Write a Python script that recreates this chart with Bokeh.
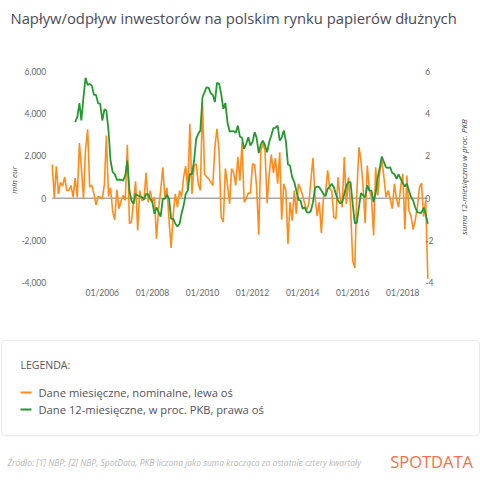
import math
import pandas as pd
from bokeh.plotting import figure
from bokeh.models import Range1d
from bokeh.embed import file_html
from bokeh.resources import INLINE
from bokeh.core.properties import value

TITLE = "Napływ/odpływ inwestorów na polskim rynku papierów dłużnych"

# monthly flows, mln EUR (left axis), Jan 2004 .. Jan 2019
monthly_start = "2004-01-01"
monthly_flow = [
    1590, 0, 1500, 200, 750, 570, 1000, 360, 360, 600, 50, 950,
    50, 2600, 1460, -30, 2300, 3250, 520, 600, 200, -320, 80, 50,
    -30, 680, 2960, 80, 490, -630, -1020, 390, -500, -140, 130, -110,
    2520, -1210, -1130, -190, 800, -1530, 360, -110, -60, 1200, -190, 360,
    -190, 50, -1920, -500, 360, 1460, 50, 490, -1060, -2350, -740, 200,
    -430, 360, 50, 990, 1510, 360, 3510, 200, 1540, 1620, 680, 360,
    4540, 1120, 1020, 910, 760, 600, 2410, 3280, 2170, -900, -1130, 1400,
    630, -270, 1390, 1200, 600, 1940, 830, 2650, -190, -30, 240, 240,
    1620, 1590, 520, -1730, 2250, 2570, 2250, -240, 1150, 2060, 1200, 1900,
    680, 2170, -1020, 680, 360, -2160, -190, -1060, 360, -740, 680, 440,
    130, -270, -580, -270, 830, 1900, 50, -850, -190, -1640, 50, 200,
    1310, 440, 360, -900, -980, 990, 50, -430, 1940, -270, 990, -390,
    -2950, -3300, 200, 2410, 1780, 520, -1180, 1540, 360, 50, -1760, 1460,
    130, 1310, 1780, 990, 50, 360, -30, -500, 680, -30, -430, 520,
    1150, -1480, 1070, -580, -850, -1480, -1060, -430, 490, 710, -870, -110,
    -3810,
]

# 12-month sum, % of GDP (right axis), Dec 2004 .. Jan 2019
pkb_start = "2004-12-01"
pkb_12m = [
    3.59,
    3.83, 4.49, 3.67, 4.77, 5.69, 5.35, 5.40, 5.32, 4.88, 4.88, 4.49, 4.46,
    3.67, 4.20, 4.14, 3.20, 1.78, 1.23, 1.15, 0.87, 0.88, 0.87, 0.83, 1.07,
    1.78, 0.36, -0.11, -0.27, 0.20, 0.13, 0.09, 0.05, -0.06, 0.20, 0.17, -0.03,
    -0.19, -0.74, -0.43, -0.66, -0.87, -0.03, -0.03, 0.17, -0.03, -0.98, -0.98, -1.21,
    -1.34, -1.21, -0.74, -0.35, 0.20, 0.36, 1.15, 1.12, 1.78, 2.80, 3.04, 3.20,
    4.77, 5.01, 5.24, 5.21, 4.96, 4.88, 4.54, 5.45, 5.40, 4.93, 4.22, 4.49,
    3.59, 3.15, 3.17, 3.17, 3.09, 3.43, 2.91, 2.85, 2.33, 2.57, 2.88, 2.49,
    2.65, 3.12, 2.85, 2.13, 2.54, 2.72, 2.49, 2.17, 2.65, 2.96, 3.31, 3.32,
    3.43, 2.72, 2.85, 3.20, 2.72, 1.59, 1.54, 0.99, 0.76, 0.36, -0.08, -0.11,
    -0.50, -0.43, -0.66, -0.69, -0.61, -0.19, 0.49, 0.55, 0.52, 0.36, 0.20, 0.09,
    0.44, 0.55, 0.68, 0.52, 0.20, -0.11, -0.24, -0.19, 0.20, 0.60, 0.76, 0.76,
    -0.27, -1.18, -1.18, -0.43, 0.24, 0.13, 0.05, 0.60, 0.36, 0.36, -0.19, 0.24,
    0.99, 1.46, 1.97, 1.70, 1.46, 1.43, 1.46, 1.18, 1.15, 0.91, 1.12, 0.91,
    0.71, 0.55, 0.68, 0.36, 0.05, -0.11, -0.43, -0.66, -0.69, -0.69, -0.46, -0.74,
    -1.21,
]

left_ticks = [-4000, -2000, 0, 2000, 4000, 6000]
right_ticks = [-4, -2, 0, 2, 4, 6]
x_tick_years = [2006, 2008, 2010, 2012, 2014, 2016, 2018]

left_axis_title = "mln eur"
right_axis_title = "suma 12-miesięczna w proc. PKB"
legend_title = "LEGENDA:"
legend_labels = ["Dane miesięczne, nominalne, lewa oś",
                 "Dane 12-miesięczne, w proc. PKB, prawa oś"]
source_text = ("Źródło: [1] NBP; [2] NBP, SpotData, PKB liczona jako suma "
               "krocząca za ostatnie cztery kwartały")
brand = "SPOTDATA"

ORANGE = "#ff8c1a"
GREEN = "#25992f"
FONT = "Open Sans"
TICK_FONT = "Lato"

# canvas geometry (pixels, y downwards)
W, H = 480, 483
PL, PR, PT, PB = 51.7, 427.3, 70.7, 282.3   # plot area

dates_m = pd.date_range(monthly_start, periods=len(monthly_flow), freq="MS")
dates_p = pd.date_range(pkb_start, periods=len(pkb_12m), freq="MS")


def span_range(v_at_a, v_at_b, a, b, lo, hi):
    """Range1d whose values v_at_a/v_at_b land at pixels a/b on a [lo, hi] canvas axis."""
    k = (v_at_b - v_at_a) / (b - a)
    return Range1d(v_at_a + (lo - a) * k, v_at_a + (hi - a) * k)


t0 = dates_m[0].value / 1e6
t1 = dates_m[-1].value / 1e6

p = figure(width=W, height=H, output_backend="svg", toolbar_location=None,
           x_range=Range1d(0, W), y_range=Range1d(H, 0), min_border=0,
           x_axis_location=None, y_axis_location=None)
p.grid.visible = False
p.outline_line_color = None
p.background_fill_color = "white"
p.border_fill_color = "white"

# scales for the chart area: y pixels are measured downwards, so the canvas bottom is H
p.extra_x_ranges = {"dates": span_range(t0, t1, PL, PR, 0, W)}
p.extra_y_ranges = {
    "flow": span_range(left_ticks[0], left_ticks[-1], H - PB, H - PT, 0, H),
    "pkb": span_range(right_ticks[0], right_ticks[-1], H - PB, H - PT, 0, H),
}

# title
p.text(x=[10], y=[17], text=[TITLE], text_font=value(FONT), text_font_size="14.8px",
       text_color="#4a4a58", text_baseline="alphabetic")

# zero line over the data span
p.line([dates_m[0], dates_m[-1]], [0, 0], x_range_name="dates", y_range_name="flow",
       line_color="#a8a8a8", line_width=1.5)

# series
p.line(dates_m, monthly_flow, x_range_name="dates", y_range_name="flow",
       line_color=ORANGE, line_width=1.6)
p.line(dates_p, pkb_12m, x_range_name="dates", y_range_name="pkb",
       line_color=GREEN, line_width=1.8)

# axis tick labels
tick_style = dict(text_font=value(TICK_FONT), text_font_size="8.5px",
                  text_color="#666666", text_baseline="middle")
p.text(x=[PL - 6] * len(left_ticks), y=left_ticks, text=[f"{v:,}" for v in left_ticks],
       y_range_name="flow", text_align="right", **tick_style)
p.text(x=[PR - 2.5] * len(right_ticks), y=right_ticks, text=[f"{v}" for v in right_ticks],
       y_range_name="pkb", text_align="left", **tick_style)
xt = [pd.Timestamp(f"{y}-01-01") for y in x_tick_years]
p.text(x=xt, y=[PB + 10] * len(xt), text=[d.strftime("%m/%Y") for d in xt],
       x_range_name="dates", text_align="center", **tick_style)

# axis titles
ax_style = dict(text_font=value(FONT), text_font_size="8px", text_font_style="italic",
                text_color="#444444", text_align="center", text_baseline="middle",
                angle=math.pi / 2)
p.text(x=[13], y=[(PT + PB) / 2 + 3], text=[left_axis_title], **ax_style)
p.text(x=[463], y=[(PT + PB) / 2], text=[right_axis_title], **ax_style)

# legend panel
p.quad(left=[1], right=[479], top=[340.5], bottom=[436], fill_color="#f4f4f4",
       line_color=None, border_radius=4)
p.quad(left=[1], right=[479], top=[340], bottom=[435], fill_color="white",
       line_color="#ebebeb", line_width=1, border_radius=4)
p.text(x=[20], y=[364], text=[legend_title], text_font=value(FONT),
       text_font_size="10.5px", text_color="#555560", text_baseline="middle")
for i, (lab, c) in enumerate(zip(legend_labels, [ORANGE, GREEN])):
    yy = 392 + i * 17
    p.segment(x0=[20], x1=[31], y0=[yy], y1=[yy], line_color=c, line_width=2)
    p.text(x=[38], y=[yy], text=[lab], text_font=value(FONT), text_font_size="11.2px",
           text_color="#52525e", text_baseline="middle")

# footer
p.text(x=[7], y=[462], text=[source_text], text_font=value(FONT), text_font_size="8.5px",
       text_font_style="italic", text_color="#b8b8b8", text_baseline="middle")
p.text(x=[472.5], y=[460.5], text=[brand], text_font=value(FONT), text_font_size="16.5px",
       text_color="#f4714a", text_align="right", text_baseline="middle")

open("out.html", "w").write(file_html(p, INLINE))
